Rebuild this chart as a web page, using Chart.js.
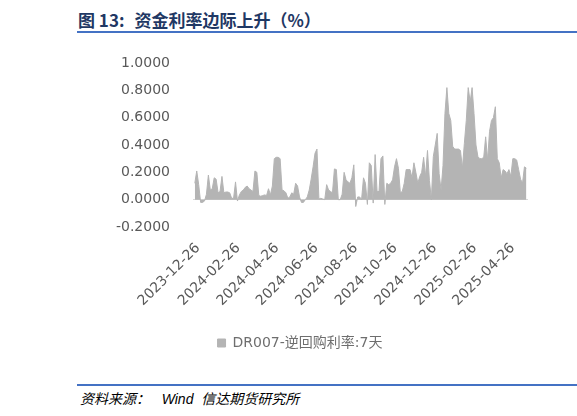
<!DOCTYPE html>
<html>
<head>
<meta charset="utf-8">
<script src="https://cdn.jsdelivr.net/npm/chart.js@4.4.1/dist/chart.umd.min.js"></script>
<style>
  html, body { margin:0; padding:0; background:#fff; width:577px; height:416px; overflow:hidden; position:relative; }
  #title { position:absolute; left:78px; top:7px; font-family:"Noto Sans CJK SC", sans-serif; font-weight:bold; font-size:17px; color:#1f3864; white-space:nowrap; }
  #title span { margin-left:10px; }
  #tline { position:absolute; left:77px; top:31px; width:500px; height:2px; background:#4472c4; }
  #fline { position:absolute; left:77px; top:384px; width:500px; height:1.5px; background:#4472c4; }
  #foot { position:absolute; left:80px; top:388px; font-family:"Liberation Sans", "Noto Sans CJK SC", sans-serif; font-style:italic; font-size:14px; color:#000; white-space:nowrap; }
  #wrap { position:absolute; left:0; top:0; width:577px; height:360px; }
</style>
</head>
<body>
<div id="title">图 13:<span>资金利率边际上升（%）</span></div>
<div id="tline"></div>
<div id="wrap"><canvas id="c" width="577" height="360"></canvas></div>
<div id="fline"></div>
<div id="foot">资料来源：&nbsp;&nbsp;&nbsp;Wind&nbsp; 信达期货研究所</div>
<script>
const seriesName = 'DR007-逆回购利率:7天';
const dates = [
'2023-12-21','2023-12-24','2023-12-27','2023-12-30','2024-01-02','2024-01-05','2024-01-08','2024-01-11','2024-01-14','2024-01-17',
'2024-01-20','2024-01-23','2024-01-26','2024-01-29','2024-02-01','2024-02-04','2024-02-07','2024-02-10','2024-02-13','2024-02-16',
'2024-02-19','2024-02-22','2024-02-25','2024-02-28','2024-03-02','2024-03-05','2024-03-08','2024-03-11','2024-03-14','2024-03-17',
'2024-03-20','2024-03-23','2024-03-26','2024-03-29','2024-04-01','2024-04-04','2024-04-07','2024-04-10','2024-04-13','2024-04-16',
'2024-04-19','2024-04-22','2024-04-25','2024-04-28','2024-05-01','2024-05-04','2024-05-07','2024-05-10','2024-05-13','2024-05-16',
'2024-05-19','2024-05-22','2024-05-25','2024-05-28','2024-05-31','2024-06-03','2024-06-06','2024-06-09','2024-06-12','2024-06-15',
'2024-06-18','2024-06-21','2024-06-24','2024-06-27','2024-06-30','2024-07-03','2024-07-06','2024-07-09','2024-07-12','2024-07-15',
'2024-07-18','2024-07-21','2024-07-24','2024-07-27','2024-07-30','2024-08-02','2024-08-05','2024-08-08','2024-08-11','2024-08-14',
'2024-08-17','2024-08-20','2024-08-23','2024-08-26','2024-08-29','2024-09-01','2024-09-04','2024-09-07','2024-09-10','2024-09-13',
'2024-09-16','2024-09-19','2024-09-22','2024-09-25','2024-09-28','2024-10-01','2024-10-04','2024-10-07','2024-10-10','2024-10-13',
'2024-10-16','2024-10-19','2024-10-22','2024-10-25','2024-10-28','2024-10-31','2024-11-03','2024-11-06','2024-11-09','2024-11-12',
'2024-11-15','2024-11-18','2024-11-21','2024-11-24','2024-11-27','2024-11-30','2024-12-03','2024-12-06','2024-12-09','2024-12-12',
'2024-12-15','2024-12-18','2024-12-21','2024-12-24','2024-12-27','2024-12-30','2025-01-02','2025-01-05','2025-01-08','2025-01-11',
'2025-01-14','2025-01-17','2025-01-20','2025-01-23','2025-01-26','2025-01-29','2025-02-01','2025-02-04','2025-02-07','2025-02-10',
'2025-02-13','2025-02-16','2025-02-19','2025-02-22','2025-02-25','2025-02-28','2025-03-03','2025-03-06','2025-03-09','2025-03-12',
'2025-03-15','2025-03-18','2025-03-21','2025-03-24','2025-03-27','2025-03-30','2025-04-02','2025-04-05','2025-04-08','2025-04-11',
'2025-04-14','2025-04-17','2025-04-20','2025-04-23','2025-04-26','2025-04-29','2025-05-02','2025-05-05','2025-05-08','2025-05-11',
'2025-05-14','2025-05-17'
];
const spread = [
0.12,0.21,0.11,-0.02,-0.02,-0.01,0.04,0.18,0.07,0.08,
0.16,0.15,0.05,0.06,0.17,0.05,0.056,0.056,0.05,0.01,
0.01,0.13,-0.01,0.035,0.06,0.07,0.09,0.10,0.08,0.07,
0.06,0.21,0.20,0.03,0.025,0.03,0.035,0.03,0.08,0.035,
0.10,0.30,0.31,0.31,0.30,0.07,0.065,0.05,0.01,0.02,
0.05,0.04,0.12,0.10,0.02,-0.02,-0.02,0.00,0.02,0.07,
0.15,0.24,0.34,0.37,0.005,0.01,0.005,0.00,0.11,0.07,
0.06,0.05,0.225,0.22,0.00,0.00,0.04,0.20,0.145,0.13,
0.12,0.16,0.255,-0.05,0.02,0.02,0.00,0.16,0.12,-0.035,
0.27,0.25,-0.025,0.33,0.06,0.06,0.30,0.32,-0.035,0.12,
0.11,0.12,0.145,0.24,0.30,0.23,0.05,0.06,0.12,0.22,
0.22,0.22,0.16,0.27,0.20,0.12,0.17,0.20,0.31,0.17,
0.36,0.14,0.00,0.315,0.40,0.485,0.19,0.07,0.25,0.63,
0.82,0.63,0.58,0.39,0.37,0.37,0.37,0.36,0.23,0.41,
0.58,0.82,0.715,0.82,0.63,0.40,0.315,0.30,0.30,0.31,
0.46,0.29,0.50,0.58,0.60,0.68,0.30,0.27,0.16,0.22,
0.21,0.19,0.22,0.17,0.30,0.30,0.29,0.22,0.15,0.12,
0.24,0.23
];
const tickLabels = ['2023-12-26','2024-02-26','2024-04-26','2024-06-26','2024-08-26','2024-10-26','2024-12-26','2025-02-26','2025-04-26'];
const yTicks = [-0.2, 0, 0.2, 0.4, 0.6, 0.8, 1.0];

function dayNum(s){ const p = s.split('-').map(Number); return Date.UTC(p[0], p[1]-1, p[2]) / 86400000; }
function dayStr(n){ return new Date(Math.round(n) * 86400000).toISOString().slice(0,10); }

const points = dates.map((d, i) => ({ x: dayNum(d), y: spread[i] }));
const tickFont = { family: 'DejaVu Sans', size: 14 };

new Chart(document.getElementById('c'), {
  type: 'line',
  data: {
    datasets: [{
      label: seriesName,
      data: points,
      fill: 'origin',
      backgroundColor: '#b4b4b4',
      borderColor: '#b4b4b4',
      borderWidth: 1,
      pointRadius: 0,
      tension: 0
    }]
  },
  options: {
    responsive: false,
    animation: false,
    layout: { padding: { left: 72, right: 49, top: 63, bottom: 0 } },
    plugins: {
      tooltip: { enabled: false },
      legend: {
        position: 'bottom',
        labels: {
          boxWidth: 8, boxHeight: 8, padding: 10,
          color: '#6e6e6e',
          font: { family: '"DejaVu Sans", "Noto Sans CJK SC", sans-serif', size: 14 }
        }
      }
    },
    scales: {
      x: {
        type: 'linear',
        min: dayNum(dates[0]) - 2.8,
        max: dayNum(dates[dates.length - 1]) + 2.5,
        afterBuildTicks: s => { s.ticks = tickLabels.map(t => ({ value: dayNum(t) })); },
        afterFit: s => { s.height = 99; },
        grid: { display: false },
        border: { display: false },
        ticks: {
          autoSkip: false, maxRotation: 45, minRotation: 45, padding: 5,
          color: '#595959', font: tickFont,
          callback: v => dayStr(v)
        }
      },
      y: {
        min: -0.2, max: 1.0,
        afterBuildTicks: s => { s.ticks = yTicks.map(v => ({ value: v })); },
        afterFit: s => { s.width = 121; },
        border: { display: false },
        grid: {
          drawTicks: false,
          color: ctx => (ctx.tick && Math.abs(ctx.tick.value) < 1e-9) ? '#d9d9d9' : 'rgba(0,0,0,0)'
        },
        ticks: {
          padding: 23, color: '#595959', font: tickFont,
          callback: v => Number(v).toFixed(4)
        }
      }
    }
  }
});
</script>
</body>
</html>
